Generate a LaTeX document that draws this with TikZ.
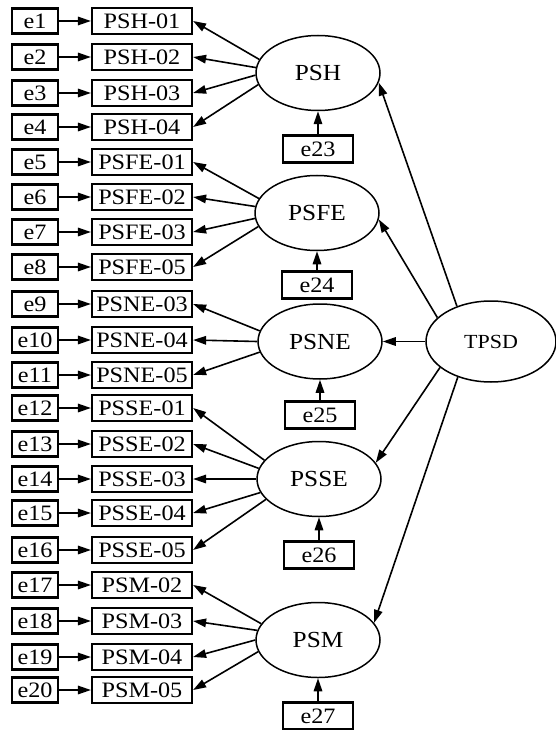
\documentclass[tikz,border=0pt]{standalone}
\usepackage{fontspec}
\setmainfont{Liberation Serif}[FakeStretch=1.1]
\usetikzlibrary{arrows.meta,shapes.geometric}
\begin{document}
\begin{tikzpicture}[x=1pt,y=-1pt,
  ebox/.style={draw,line width=2.2pt,minimum width=46pt,minimum height=25pt,inner sep=0pt,font=\fontsize{22}{22}\selectfont},
  ibox/.style={draw,line width=2.2pt,minimum width=100pt,minimum height=26pt,inner sep=0pt,font=\fontsize{22}{22}\selectfont},
  dbox/.style={draw,line width=2.2pt,minimum width=70pt,minimum height=27pt,inner sep=0pt,font=\fontsize{22}{22}\selectfont},
  lat/.style={ellipse,draw,line width=1.5pt,minimum width=124pt,minimum height=75pt,inner sep=0pt,font=\fontsize{23}{23}\selectfont},
  arr/.style={line width=1.6pt,-{Triangle[length=13pt,width=8.5pt]}}]
\useasboundingbox (0,0) rectangle (556,730);

% latent variables
\node[lat] (PSH)  at (318,73)  {PSH};
\node[lat] (PSFE) at (317,213) {PSFE};
\node[lat] (PSNE) at (320,341.5) {PSNE};
\node[lat] (PSSE) at (319,479) {PSSE};
\node[lat] (PSM)  at (318,640) {PSM};
\node[lat,minimum width=130pt,minimum height=81pt,font=\fontsize{20}{20}\selectfont] (TPSD) at (491,341.5) {TPSD};

% disturbances
\node[dbox] (e23) at (318,149) {e23};
\node[dbox] (e24) at (317,285) {e24};
\node[dbox] (e25) at (320,415) {e25};
\node[dbox] (e26) at (319,555) {e26};
\node[dbox] (e27) at (318,716) {e27};
\foreach \d/\l in {e23/PSH,e24/PSFE,e25/PSNE,e26/PSSE,e27/PSM}
  \draw[arr] (\d) -- (\l);

% indicators and errors
\foreach \i/\lab/\y in {1/PSH-01/21,2/PSH-02/57,3/PSH-03/93,4/PSH-04/127,
  5/PSFE-01/162,6/PSFE-02/197,7/PSFE-03/232,8/PSFE-05/267,
  9/PSNE-03/304,10/PSNE-04/340,11/PSNE-05/375,
  12/PSSE-01/408,13/PSSE-02/444,14/PSSE-03/479,15/PSSE-04/513,16/PSSE-05/550,
  17/PSM-02/585,18/PSM-03/621,19/PSM-04/657,20/PSM-05/690}{
  \node[ebox] (e\i) at (35,\y) {e\i};
  \node[ibox] (v\i) at (142,\y) {\lab};
  \draw[arr] (e\i) -- (v\i);
}

% loadings
\foreach \a/\v in {167/1,175/2,182/3,191/4}
  \draw[arr] (PSH.\a) -- (v\v.east);
\foreach \a/\v in {166/5,174/6,185/7,193/8}
  \draw[arr] (PSFE.\a) -- (v\v.east);
\foreach \a/\v in {170/9,180/10,190/11}
  \draw[arr] (PSNE.\a) -- (v\v.east);
\foreach \a/\v in {161/12,170/13,180/14,193/15,201/16}
  \draw[arr] (PSSE.\a) -- (v\v.east);
\foreach \a/\v in {164/17,171/18,180/19,191/20}
  \draw[arr] (PSM.\a) -- (v\v.east);

% second-order paths
\draw[arr] (TPSD.134) -- (PSH.-9);
\draw[arr] (TPSD.156) -- (PSFE.-6);
\draw[arr] (TPSD.180) -- (PSNE.east);
\draw[arr] (TPSD.207) -- (PSSE.16);
\draw[arr] (TPSD.227) -- (PSM.17);
\end{tikzpicture}
\end{document}
